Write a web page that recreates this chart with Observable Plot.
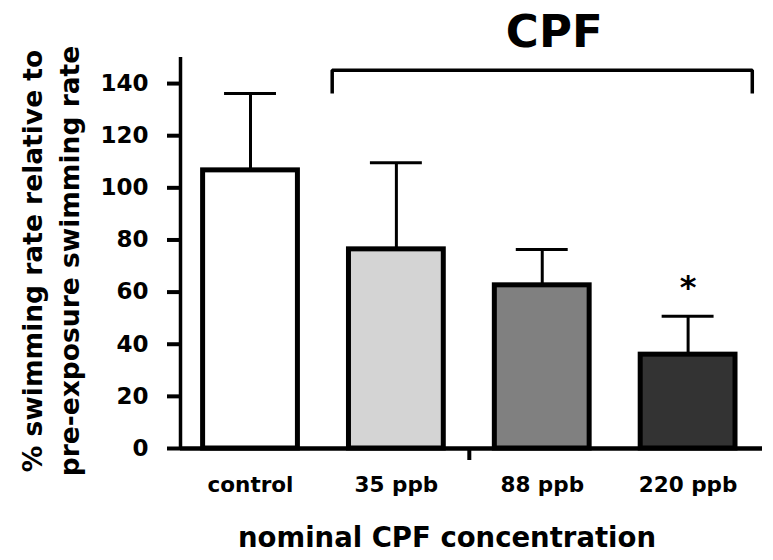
<!DOCTYPE html>
<html>
<head>
<meta charset="utf-8">
<script src="https://cdn.jsdelivr.net/npm/d3@7"></script>
<script src="https://cdn.jsdelivr.net/npm/@observablehq/plot@0.6"></script>
<style>
  html, body { margin: 0; padding: 0; background: #ffffff; }
</style>
</head>
<body>
<script>
// ---- data ----
const categories = ["control", "35 ppb", "88 ppb", "220 ppb"];
const means = [106.7, 76.4, 62.6, 36.0];
const errors = [29.5, 33.2, 13.7, 14.7];
const fills = ["#ffffff", "#d4d4d4", "#808080", "#333333"];
const significance = ["", "", "", "*"];
const yTicks = [0, 20, 40, 60, 80, 100, 120, 140];
const groupLabel = "CPF";
const groupFrom = "35 ppb";
const groupTo = "220 ppb";
const groupBracketTop = 145.1;
const groupBracketEnd = 136.2;
const yTitle = "% swimming rate relative to\npre-exposure swimming rate";
const xTitle = "nominal CPF concentration";

// ---- layout/style constants ----
const xDomain = [0.52, 4.51];
const BAR_HALF = 0.325;
const CAP_HALF = 0.178;
const OVERHANG = 0.44;

const data = categories.map((c, i) => ({
  cat: c, pos: i + 1, mean: means[i], top: means[i] + errors[i],
  fill: fills[i], sig: significance[i]
}));
const posOf = c => categories.indexOf(c) + 1;
const bl = posOf(groupFrom) - OVERHANG, br = posOf(groupTo) + OVERHANG;
const bracket = [
  {x: bl, y: groupBracketEnd}, {x: bl, y: groupBracketTop},
  {x: br, y: groupBracketTop}, {x: br, y: groupBracketEnd}
];

const chart = Plot.plot({
  width: 773, height: 560,
  marginLeft: 180, marginRight: 11, marginTop: 57, marginBottom: 112,
  x: {domain: xDomain},
  y: {domain: [0, 150]},
  color: {type: "identity"},
  style: {fontFamily: "DejaVu Sans", fontWeight: "bold", background: "#ffffff", color: "#000000"},
  marks: [
    Plot.axisY({ticks: yTicks, tickSize: 13, tickPadding: 19, fontSize: 23, strokeWidth: 4, label: null}),
    Plot.axisX({ticks: [1, 2, 3, 4], tickSize: 0, tickPadding: 28, fontSize: 21.5,
      tickFormat: d => categories[d - 1], label: null}),
    Plot.axisX({ticks: [2.5], tickSize: 12, strokeWidth: 4, tickFormat: () => "", label: null}),
    Plot.ruleX([xDomain[0]], {y1: 0, y2: 150, strokeWidth: 3.5}),
    Plot.rectY(data, {x1: d => d.pos - BAR_HALF, x2: d => d.pos + BAR_HALF, y1: 0, y2: "mean",
      fill: "fill", stroke: "#000000", strokeWidth: 5}),
    Plot.ruleY([0], {strokeWidth: 4.5}),
    Plot.ruleX(data, {x: "pos", y1: "mean", y2: "top", strokeWidth: 3}),
    Plot.ruleY(data, {y: "top", x1: d => d.pos - CAP_HALF, x2: d => d.pos + CAP_HALF, strokeWidth: 3}),
    Plot.text(data, {x: "pos", y: "top", text: "sig", fontSize: 32, dy: -18, lineAnchor: "bottom"}),
    Plot.line(bracket, {x: "x", y: "y", strokeWidth: 3.5, strokeLinejoin: "miter", strokeLinecap: "butt"}),
    Plot.text([groupLabel], {x: (posOf(groupFrom) + posOf(groupTo)) / 2, y: groupBracketTop,
      text: d => d, fontSize: 45, dx: 12, dy: -23, lineAnchor: "bottom"}),
    Plot.text([yTitle], {frameAnchor: "left", textAnchor: "middle", rotate: -90, dx: -132, dy: 8,
      lineAnchor: "middle", lineHeight: 1.4, fontSize: 26.5, text: d => d}),
    Plot.text([xTitle], {frameAnchor: "bottom", textAnchor: "middle", dx: -24.5, dy: 98.5,
      lineAnchor: "bottom", fontSize: 27.5, text: d => d})
  ]
});
document.body.appendChild(chart);
</script>
</body>
</html>
